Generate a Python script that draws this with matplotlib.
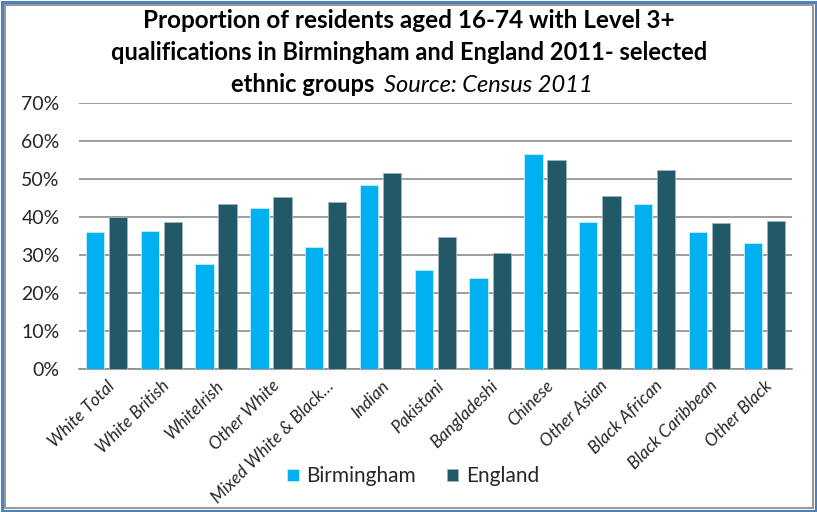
import matplotlib.pyplot as plt
import numpy as np
from matplotlib.patches import Rectangle

plt.rcParams["font.family"] = ["Lato", "DejaVu Sans"]

GROUPS = [
    "White Total", "White British", "WhiteIrish", "Other White",
    "Mixed White & Black\u2026", "Indian", "Pakistani", "Bangladeshi",
    "Chinese", "Other Asian", "Black African", "Black Caribbean", "Other Black",
]
BIRMINGHAM = [36.0, 36.2, 27.7, 42.3, 32.0, 48.4, 26.1, 24.0, 56.4, 38.8, 43.3, 36.0, 33.1]
ENGLAND = [39.9, 38.7, 43.3, 45.2, 43.8, 51.6, 34.7, 30.5, 54.9, 45.5, 52.2, 38.5, 39.0]
Y_TICKS = [0, 10, 20, 30, 40, 50, 60, 70]

BLUE = "#00B0F0"
TEAL = "#215968"
GRID = "#8C8C8C"

W, H = 817, 512
fig = plt.figure(figsize=(W / 100, H / 100), dpi=100)
ax = fig.add_axes([79 / W, 1 - 369.3 / H, (791.7 - 79) / W, (369.3 - 102.7) / H])

x = np.arange(len(GROUPS))
bw = 0.335
ax.bar(x - 0.21, BIRMINGHAM, bw, color=BLUE, edgecolor="#BFEFFF", linewidth=0.6,
       label="Birmingham", zorder=3)
ax.bar(x + 0.21, ENGLAND, bw, color=TEAL, edgecolor="#A0B4BA", linewidth=0.6,
       label="England", zorder=3)

ax.set_xlim(-0.5, len(GROUPS) - 0.5)
ax.set_ylim(0, 70)
ax.set_yticks(Y_TICKS)
ax.set_yticklabels([f"{t}%" for t in Y_TICKS], fontsize=14, color="#262626")
ax.yaxis.grid(True, color=GRID, linewidth=1.2, zorder=0)
ax.tick_params(axis="y", length=0, pad=14)
ax.tick_params(axis="x", length=0, pad=6)
ax.set_xticks(x)
ax.set_xticklabels(GROUPS, rotation=45, ha="right", rotation_mode="anchor",
                   fontsize=12.5, style="italic", color="#262626")
for s in ["left", "right", "top"]:
    ax.spines[s].set_visible(False)
ax.spines["bottom"].set_color(GRID)
ax.spines["bottom"].set_linewidth(1.2)

ax.legend(loc="center", bbox_to_anchor=(413 / W, 1 - 476.5 / H),
          bbox_transform=fig.transFigure, ncol=2, frameon=False, fontsize=15,
          handlelength=0.55, handleheight=0.55, handletextpad=0.35, columnspacing=1.5,
          labelcolor="#262626")

# title
fig.text(409 / W, 1 - 20 / H, "Proportion of residents aged 16-74 with Level 3+",
         ha="center", va="center", fontsize=17.5, fontweight="bold")
fig.text(409 / W, 1 - 53 / H, "qualifications in Birmingham and England 2011- selected",
         ha="center", va="center", fontsize=17, fontweight="bold")
fig.text(374 / W, 1 - 85 / H, "ethnic groups", ha="right", va="center",
         fontsize=17, fontweight="bold")
fig.text(384 / W, 1 - 85 / H, "Source: Census 2011", ha="left", va="center",
         fontsize=17, style="italic")

# frame around the chart
fig.patches.append(Rectangle((4.5 / W, 4.5 / H), 1 - 9 / W, 1 - 9 / H,
                             transform=fig.transFigure, fill=False,
                             edgecolor="#999999", linewidth=1.5))
fig.patches.append(Rectangle((1.5 / W, 1.5 / H), 1 - 3 / W, 1 - 3 / H,
                             transform=fig.transFigure, fill=False,
                             edgecolor="#4F81BD", linewidth=2.2))

fig.savefig("out.png", dpi=100)
